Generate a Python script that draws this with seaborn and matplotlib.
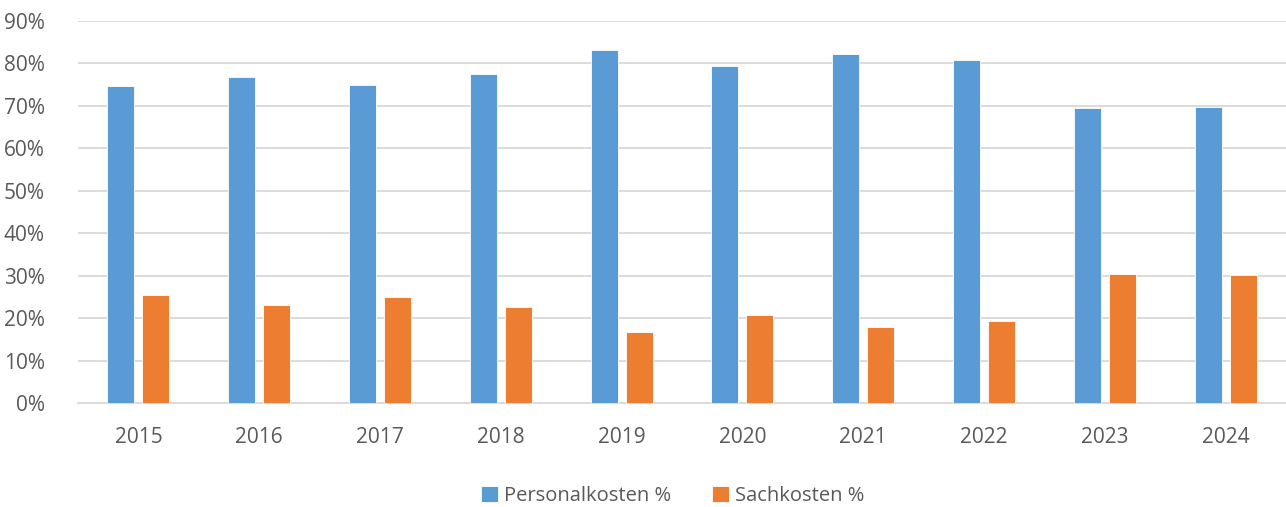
import matplotlib
matplotlib.use("Agg")
import matplotlib.pyplot as plt
import seaborn as sns
import pandas as pd
from matplotlib.ticker import PercentFormatter

years = ["2015", "2016", "2017", "2018", "2019", "2020", "2021", "2022", "2023", "2024"]
personalkosten = [74.6, 76.9, 74.9, 77.4, 83.2, 79.3, 82.2, 80.7, 69.6, 69.8]
sachkosten = [25.4, 23.1, 25.1, 22.6, 16.8, 20.7, 17.8, 19.3, 30.4, 30.2]
series_names = ["Personalkosten %", "Sachkosten %"]
colors = ["#5B9BD5", "#ED7D31"]
yticks = [0, 10, 20, 30, 40, 50, 60, 70, 80, 90]

df = pd.DataFrame({
    "Jahr": years * 2,
    "Wert": personalkosten + sachkosten,
    "Serie": [series_names[0]] * len(years) + [series_names[1]] * len(years),
})

sns.set_theme(style="white")
plt.rcParams["font.family"] = ["Open Sans", "DejaVu Sans"]

fig = plt.figure(figsize=(12.86, 5.07), dpi=100)
ax = fig.add_axes([0.0607, 0.205, 0.9393, 0.7536])

sns.barplot(data=df, x="Jahr", y="Wert", hue="Serie", order=years,
            hue_order=series_names, palette=colors, width=0.58, gap=0.23,
            saturation=1, ax=ax, legend=True, zorder=3,
            edgecolor="white", linewidth=0.6)

ax.set_ylim(0, 90)
ax.set_yticks(yticks)
ax.yaxis.set_major_formatter(PercentFormatter(decimals=0))
ax.set_xlim(-0.5, len(years) - 0.5)
ax.grid(axis="y", color="#d9d9d9", linewidth=1.3, zorder=0)
ax.set_axisbelow(True)
for s in ["top", "right", "left"]:
    ax.spines[s].set_visible(False)
ax.spines["bottom"].set_color("#d9d9d9")
ax.spines["bottom"].set_linewidth(1.3)
ax.set_xlabel("")
ax.set_ylabel("")
ax.tick_params(axis="both", length=0, colors="#595959", labelsize=15)
ax.tick_params(axis="x", pad=17)
ax.tick_params(axis="y", pad=24)

handles, labels = ax.get_legend_handles_labels()
ax.get_legend().remove()
fig.legend(handles, labels, loc="center", bbox_to_anchor=(0.523, 0.022),
           ncol=2, frameon=False, fontsize=14.5, handlelength=0.85,
           handleheight=0.85, handletextpad=0.3, columnspacing=2.0,
           labelcolor="#595959")

fig.savefig("out.png", dpi=100)
